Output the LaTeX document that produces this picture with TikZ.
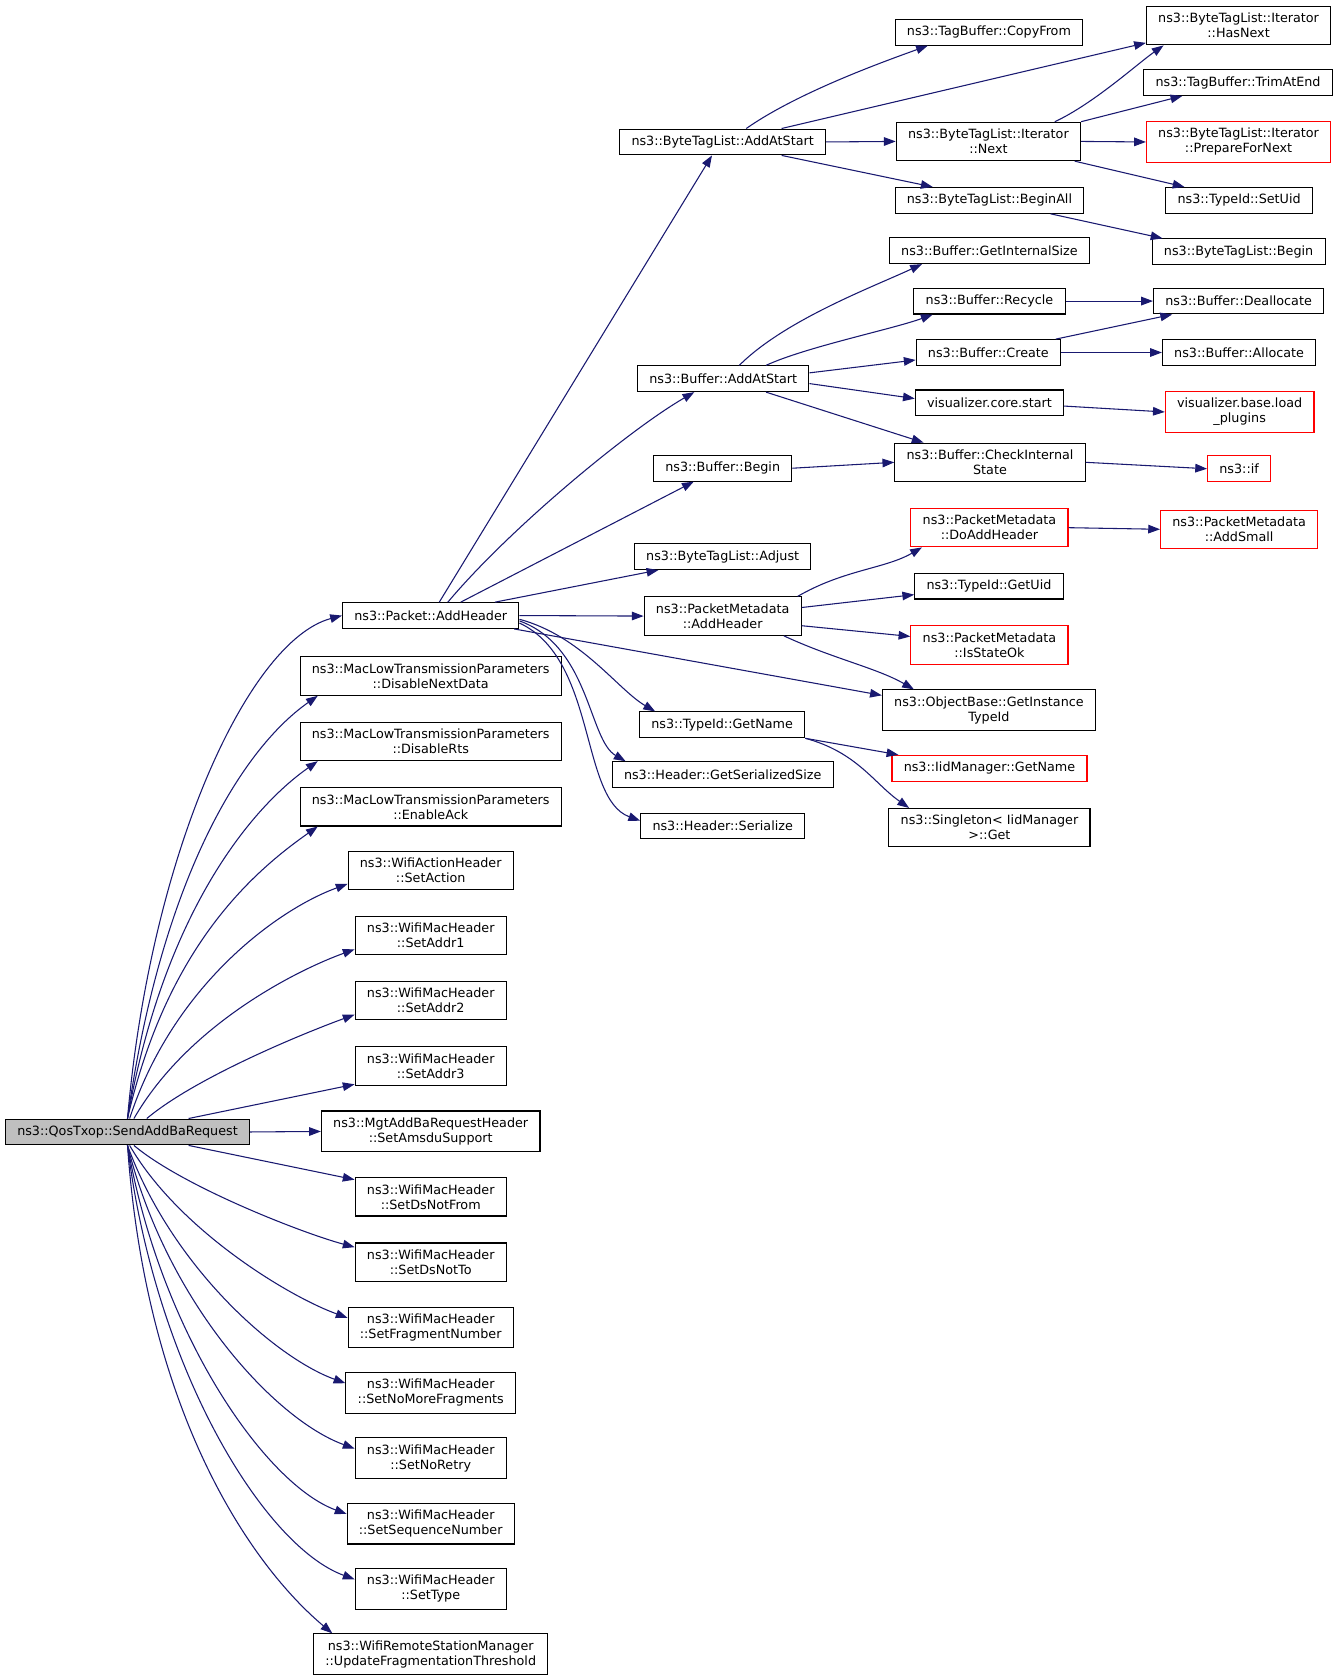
\documentclass[tikz,border=0pt]{standalone}
\usepackage{fontspec}
\setmainfont{DejaVu Sans}
\usepackage{tikz}
\usetikzlibrary{arrows.meta}
\definecolor{edgeblue}{HTML}{191970}
\definecolor{rootgray}{HTML}{BFBFBF}
\newcommand{\fnfont}{\fontsize{11.9}{14}\selectfont}
\tikzset{
FN/.style ={draw=black,fill=white,line width=1pt,inner xsep=11pt,inner ysep=6.3pt,minimum height=24pt,align=center,font=\fnfont},
FNRED/.style ={FN,draw=red},
FNROOT/.style ={FN,fill=rootgray},
CALL/.style ={draw=edgeblue,line width=1pt,-{Triangle[length=11pt,width=8pt]}},
}
\begin{document}
\begin{tikzpicture}[x=1pt,y=1pt] %call graph
	\useasboundingbox (0,0) rectangle (1250,-1568);
	% root and its callees
	\node[FNROOT] (send) at (119,-1056.5) {ns3::QosTxop::SendAddBaRequest};
	\node[FN] (pah) at (402,-574.5) {ns3::Packet::AddHeader};
	\node[FN] (dnd) at (402,-631) {ns3::MacLowTransmissionParameters\\::DisableNextData};
	\node[FN] (drts) at (402,-692) {ns3::MacLowTransmissionParameters\\::DisableRts};
	\node[FN] (eack) at (402,-753) {ns3::MacLowTransmissionParameters\\::EnableAck};
	\node[FN] (sact) at (402,-812.5) {ns3::WifiActionHeader\\::SetAction};
	\node[FN] (addra) at (402,-873) {ns3::WifiMacHeader\\::SetAddr1};
	\node[FN] (addrb) at (402,-934) {ns3::WifiMacHeader\\::SetAddr2};
	\node[FN] (addrc) at (402,-995) {ns3::WifiMacHeader\\::SetAddr3};
	\node[FN] (amsdu) at (402,-1056) {ns3::MgtAddBaRequestHeader\\::SetAmsduSupport};
	\node[FN] (dnf) at (402,-1117) {ns3::WifiMacHeader\\::SetDsNotFrom};
	\node[FN] (dnt) at (402,-1178) {ns3::WifiMacHeader\\::SetDsNotTo};
	\node[FN] (sfn) at (402,-1239) {ns3::WifiMacHeader\\::SetFragmentNumber};
	\node[FN] (snmf) at (402,-1300) {ns3::WifiMacHeader\\::SetNoMoreFragments};
	\node[FN] (snr) at (402,-1361) {ns3::WifiMacHeader\\::SetNoRetry};
	\node[FN] (ssn) at (402,-1422) {ns3::WifiMacHeader\\::SetSequenceNumber};
	\node[FN] (stype) at (402,-1483) {ns3::WifiMacHeader\\::SetType};
	\node[FN] (uft) at (402,-1544) {ns3::WifiRemoteStationManager\\::UpdateFragmentationThreshold};
	% second column
	\node[FN] (btlaas) at (674.5,-132.5) {ns3::ByteTagList::AddAtStart};
	\node[FN] (baas) at (675,-353.5) {ns3::Buffer::AddAtStart};
	\node[FN] (bbegin) at (674.5,-437) {ns3::Buffer::Begin};
	\node[FN] (btladj) at (674.5,-519.5) {ns3::ByteTagList::Adjust};
	\node[FN] (pmah) at (674.5,-575) {ns3::PacketMetadata\\::AddHeader};
	\node[FN] (tidgn) at (674,-676.5) {ns3::TypeId::GetName};
	\node[FN] (hgss) at (674.5,-723) {ns3::Header::GetSerializedSize};
	\node[FN] (hser) at (674.5,-771) {ns3::Header::Serialize};
	% third column
	\node[FN] (tbcf) at (923,-30) {ns3::TagBuffer::CopyFrom};
	\node[FN] (itnext) at (922.5,-132) {ns3::ByteTagList::Iterator\\::Next};
	\node[FN] (btlba) at (923.5,-187) {ns3::ByteTagList::BeginAll};
	\node[FN] (bgis) at (923.5,-234) {ns3::Buffer::GetInternalSize};
	\node[FN] (brec) at (923.5,-281) {ns3::Buffer::Recycle};
	\node[FN] (bcre) at (922.5,-329) {ns3::Buffer::Create};
	\node[FN] (vcs) at (923.5,-376) {visualizer.core.start};
	\node[FN] (bcis) at (924,-431.5) {ns3::Buffer::CheckInternal\\State};
	\node[FNRED] (pmdah) at (923.5,-492.5) {ns3::PacketMetadata\\::DoAddHeader};
	\node[FN] (tidguid) at (923,-547) {ns3::TypeId::GetUid};
	\node[FNRED] (pmiso) at (923.5,-602) {ns3::PacketMetadata\\::IsStateOk};
	\node[FN] (obgit) at (923,-663) {ns3::ObjectBase::GetInstance\\TypeId};
	\node[FNRED] (iidgn) at (923.5,-717) {ns3::IidManager::GetName};
	\node[FN] (singget) at (923.5,-772.5) {ns3::Singleton< IidManager\\>::Get};
	% fourth column
	\node[FN] (ithn) at (1156,-24) {ns3::ByteTagList::Iterator\\::HasNext};
	\node[FN] (tbtae) at (1155.5,-77) {ns3::TagBuffer::TrimAtEnd};
	\node[FNRED] (itpfn) at (1156,-132.5) {ns3::ByteTagList::Iterator\\::PrepareForNext};
	\node[FN] (tidsuid) at (1156.5,-187) {ns3::TypeId::SetUid};
	\node[FN] (btlb) at (1156,-235) {ns3::ByteTagList::Begin};
	\node[FN] (bdea) at (1156,-281) {ns3::Buffer::Deallocate};
	\node[FN] (ball) at (1156.5,-329) {ns3::Buffer::Allocate};
	\node[FNRED] (vbl) at (1157,-384.5) {visualizer.base.load\\\_plugins};
	\node[FNRED] (nsif) at (1156.5,-437.5) {ns3::if};
	\node[FNRED] (pmas) at (1156.5,-494) {ns3::PacketMetadata\\::AddSmall};

	% fan out of SendAddBaRequest
	\path[CALL] (send.north) to[out=85,in=195,out distance=250,in distance=90] (pah.west);
	\path[CALL] (send.north) to[out=82,in=215,out distance=220,in distance=90] ([xshift=17pt]dnd.south west);
	\path[CALL] (send.north) to[out=80,in=215,out distance=190,in distance=80] ([xshift=17pt]drts.south west);
	\path[CALL] (send.north) to[out=77,in=215,out distance=160,in distance=80] ([xshift=17pt]eack.south west);
	\path[CALL] ([xshift=2pt]send.north) to[out=72,in=200,out distance=130,in distance=70] ([yshift=-12.5pt]sact.west);
	\path[CALL] ([xshift=6pt]send.north) to[out=60,in=200,out distance=100,in distance=60] ([yshift=-13pt]addra.west);
	\path[CALL] ([xshift=18pt]send.north) to[out=40,in=200,out distance=60,in distance=50] ([yshift=-13pt]addrb.west);
	\path[CALL] ([xshift=57pt]send.north) -- ([yshift=-17pt]addrc.west);
	\path[CALL] (send.east) -- (amsdu.west);
	\path[CALL] ([xshift=57pt]send.south) -- ([yshift=16pt]dnf.west);
	\path[CALL] ([xshift=6pt]send.south) to[out=-40,in=165,out distance=60,in distance=50] ([yshift=14pt]dnt.west);
	\path[CALL] ([xshift=2pt]send.south) to[out=-60,in=160,out distance=90,in distance=60] ([yshift=9pt]sfn.west);
	\path[CALL] (send.south) to[out=-70,in=160,out distance=120,in distance=70] ([yshift=9pt]snmf.west);
	\path[CALL] (send.south) to[out=-76,in=160,out distance=150,in distance=80] ([yshift=9pt]snr.west);
	\path[CALL] (send.south) to[out=-80,in=160,out distance=180,in distance=80] ([yshift=9pt]ssn.west);
	\path[CALL] (send.south) to[out=-83,in=160,out distance=210,in distance=90] ([yshift=9pt]stype.west);
	\path[CALL] (send.south) to[out=-86,in=140,out distance=250,in distance=100] ([xshift=18pt]uft.north west);

	% Packet::AddHeader
	\path[CALL] ([xshift=8pt]pah.north) -- ([xshift=-10pt]btlaas.south);
	\path[CALL] ([xshift=16pt]pah.north) to[out=50,in=210,out distance=90,in distance=70] ([xshift=-27pt]baas.south);
	\path[CALL] ([xshift=28pt]pah.north) -- ([xshift=-27pt]bbegin.south);
	\path[CALL] ([xshift=60pt]pah.north) -- ([xshift=-60pt]btladj.south);
	\path[CALL] (pah.east) -- (pmah.west);
	\path[CALL] ([xshift=-5pt]pah.south east) -- ([yshift=14pt]obgit.west);
	\path[CALL] ([yshift=-3.5pt]pah.east) to[out=-15,in=150,out distance=60,in distance=40] ([xshift=15pt]tidgn.north west);
	\path[CALL] ([yshift=-5pt]pah.east) to[out=-20,in=150,out distance=70,in distance=40] ([xshift=13pt]hgss.north west);
	\path[CALL] ([yshift=-7pt]pah.east) to[out=-25,in=160,out distance=80,in distance=60] ([yshift=5pt]hser.west);

	% ByteTagList::AddAtStart
	\path[CALL] ([xshift=22pt]btlaas.north) to[out=35,in=200,out distance=60,in distance=40] ([xshift=-57pt]tbcf.south);
	\path[CALL] ([xshift=55pt]btlaas.north) -- ([yshift=-16pt]ithn.west);
	\path[CALL] (btlaas.east) -- (itnext.west);
	\path[CALL] ([xshift=55pt]btlaas.south) -- ([xshift=-53pt]btlba.north);
	\path[CALL] ([xshift=62pt]itnext.north) to[out=25,in=215,out distance=40,in distance=30] ([xshift=-70pt]ithn.south);
	\path[CALL] (itnext.north east) -- ([xshift=-52pt]tbtae.south);
	\path[CALL] (itnext.east) -- (itpfn.west);
	\path[CALL] ([xshift=-6pt]itnext.south east) -- ([xshift=-51pt]tidsuid.north);
	\path[CALL] ([xshift=57pt]btlba.south) -- ([xshift=-71pt]btlb.north);

	% Buffer::AddAtStart
	\path[CALL] ([xshift=15pt]baas.north) to[out=45,in=205,out distance=60,in distance=50] ([xshift=-63pt]bgis.south);
	\path[CALL] ([xshift=40pt]baas.north) to[out=25,in=200,out distance=40,in distance=40] ([xshift=-53pt]brec.south);
	\path[CALL] ([yshift=5.5pt]baas.east) -- ([yshift=-7pt]bcre.west);
	\path[CALL] ([yshift=-4.5pt]baas.east) -- ([yshift=4pt]vcs.west);
	\path[CALL] ([xshift=40pt]baas.south) -- ([xshift=-62pt]bcis.north);
	\path[CALL] (brec.east) -- (bdea.west);
	\path[CALL] ([xshift=-5pt]bcre.north east) -- ([xshift=-62pt]bdea.south);
	\path[CALL] (bcre.east) -- (ball.west);
	\path[CALL] ([yshift=-3pt]vcs.east) -- (vbl.west);
	\path[CALL] (bbegin.east) -- (bcis.west);
	\path[CALL] (bcis.east) -- (nsif.west);

	% PacketMetadata::AddHeader
	\path[CALL] ([xshift=70pt]pmah.north) to[out=30,in=210,out distance=50,in distance=40] ([xshift=-63pt]pmdah.south);
	\path[CALL] ([yshift=8pt]pmah.east) -- ([yshift=-8pt]tidguid.west);
	\path[CALL] ([yshift=-9pt]pmah.east) -- ([yshift=8pt]pmiso.west);
	\path[CALL] ([xshift=57pt]pmah.south) to[out=-25,in=150,out distance=50,in distance=40] ([xshift=-70pt]obgit.north);
	\path[CALL] (pmdah.east) -- (pmas.west);

	% TypeId::GetName
	\path[CALL] (tidgn.south east) -- ([xshift=-85pt]iidgn.north);
	\path[CALL] (tidgn.south east) to[out=-15,in=145,out distance=50,in distance=40] ([xshift=-75pt]singget.north);
\end{tikzpicture}
\end{document}
